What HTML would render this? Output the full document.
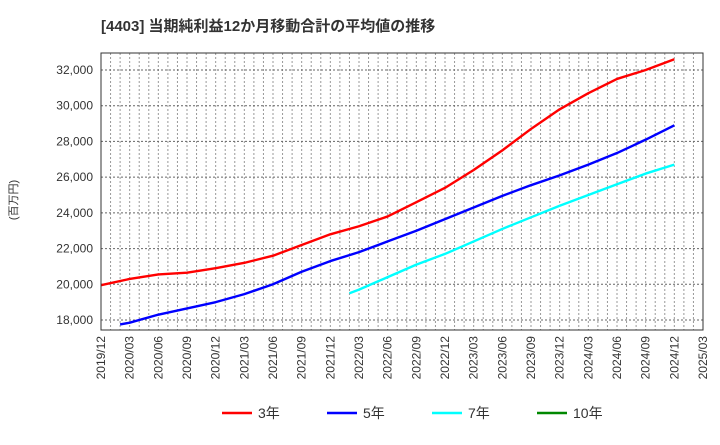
<!DOCTYPE html>
<html><head><meta charset="utf-8"><style>
body{margin:0;background:#fff}
svg{font-family:"Liberation Sans","Noto Sans CJK JP",sans-serif}
</style></head><body>
<svg id="c" width="720" height="440">
<text x="101" y="31" font-size="15" font-weight="bold" fill="#333">[4403]  当期純利益12か月移動合計の平均値の推移</text>
<text transform="translate(17,200) rotate(-90)" text-anchor="middle" font-size="11" fill="#333">(百万円)</text>
<g id="grid"></g><g id="lines"></g><g id="axes"></g>
<g font-size="14" fill="#333">
<g><line x1="222" y1="413" x2="252" y2="413" stroke="#f00" stroke-width="2.5"/><text x="258" y="418">3年</text></g>
<g><line x1="327" y1="413" x2="357" y2="413" stroke="#00f" stroke-width="2.5"/><text x="363" y="418">5年</text></g>
<g><line x1="432" y1="413" x2="462" y2="413" stroke="#0ff" stroke-width="2.5"/><text x="468" y="418">7年</text></g>
<g><line x1="537" y1="413" x2="567" y2="413" stroke="#080" stroke-width="2.5"/><text x="573" y="418">10年</text></g>
</g>
</svg>
<script>
const xLabels=["2019/12","2020/03","2020/06","2020/09","2020/12","2021/03","2021/06","2021/09","2021/12","2022/03","2022/06","2022/09","2022/12","2023/03","2023/06","2023/09","2023/12","2024/03","2024/06","2024/09","2024/12","2025/03"];
const yTicks=[18000,20000,22000,24000,26000,28000,30000,32000];
const months3=[0,3,6,9,12,15,18,21,24,27,30,33,36,39,42,45,48,51,54,57,60];
const s3=[19950,20300,20550,20650,20900,21200,21600,22200,22800,23250,23800,24600,25400,26400,27500,28700,29800,30700,31500,32000,32600];
const months5=[2,3,6,9,12,15,18,21,24,27,30,33,36,39,42,45,48,51,54,57,60];
const s5=[17750,17850,18300,18650,19000,19450,20000,20700,21300,21800,22400,23000,23650,24300,24950,25550,26100,26700,27350,28100,28900];
const months7=[26,27,30,33,36,39,42,45,48,51,54,57,60];
const s7=[19500,19700,20400,21100,21700,22400,23100,23750,24400,25000,25600,26200,26700];
const months10=[];const s10=[];
const L=101,R=703,T=53,B=330;
const x=m=>L+m*(R-L)/63;
const y=v=>320-(v-18000)*250/14000;
const NS="http://www.w3.org/2000/svg";
function mk(t,a,p){const e=document.createElementNS(NS,t);for(const k in a)e.setAttribute(k,a[k]);p.appendChild(e);return e;}
const g=document.getElementById('grid'),ax=document.getElementById('axes'),ln=document.getElementById('lines');
for(let m=1;m<63;m++){const e=mk('line',{x1:x(m),x2:x(m),y1:T,y2:B,stroke:'#999','stroke-dasharray':'2,2','stroke-width':1},g);

}
yTicks.forEach(v=>{const e=mk('line',{x1:L,x2:R,y1:y(v),y2:y(v),stroke:'#666','stroke-dasharray':'2,2','stroke-width':1},g);


const t=mk('text',{x:L-8,y:y(v)+4,'text-anchor':'end','font-size':12,fill:'#333'},ax);t.textContent=v.toLocaleString('en-US');

});
xLabels.forEach((s,i)=>{const xx=x(i*3);const t=mk('text',{transform:`translate(${xx+4},${B+6}) rotate(-90)`,'text-anchor':'end','font-size':12,fill:'#333'},ax);t.textContent=s;

});
const f=mk('rect',{x:L,y:T,width:R-L,height:B-T,fill:'none',stroke:'#333','stroke-width':1},ax);


[[months3,s3,'#f00','line-3y'],[months5,s5,'#00f','line-5y'],[months7,s7,'#0ff','line-7y'],[months10,s10,'#080','line-10y']].forEach(([ms,vs,c,n])=>{
if(!vs.length)return;
const p=mk('polyline',{points:vs.map((v,i)=>x(ms[i])+','+y(v)).join(' '),fill:'none',stroke:c,'stroke-width':2.4,'stroke-linejoin':'round'},ln);

});
</script>
</body></html>
